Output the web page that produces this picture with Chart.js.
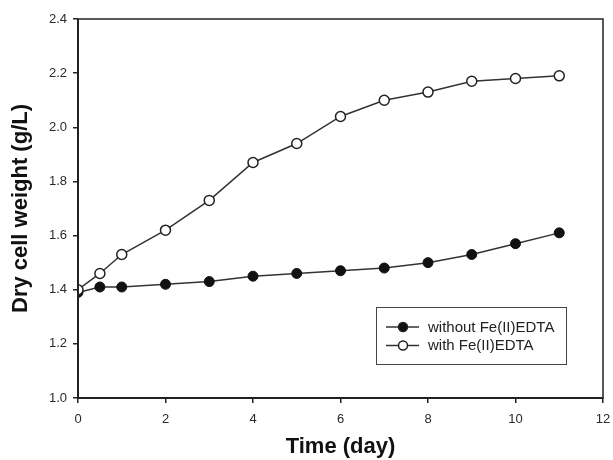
<!DOCTYPE html>
<html>
<head>
<meta charset="utf-8">
<style>
  html, body { margin: 0; padding: 0; background: #fff; }
  #wrap { width: 613px; height: 460px; }
</style>
<script src="https://cdn.jsdelivr.net/npm/chart.js@4.4.0/dist/chart.umd.min.js"></script>
</head>
<body>
<div id="wrap"><canvas id="dcwChart" width="613" height="460"></canvas></div>
<script>
// data
const days = [0, 0.5, 1, 2, 3, 4, 5, 6, 7, 8, 9, 10, 11];
const withoutFe = [1.39, 1.41, 1.41, 1.42, 1.43, 1.45, 1.46, 1.47, 1.48, 1.50, 1.53, 1.57, 1.61];
const withFe = [1.40, 1.46, 1.53, 1.62, 1.73, 1.87, 1.94, 2.04, 2.10, 2.13, 2.17, 2.18, 2.19];
const seriesNames = ['without Fe(II)EDTA', 'with Fe(II)EDTA'];
const xTicks = [0, 2, 4, 6, 8, 10, 12];
const yTicks = [1.0, 1.2, 1.4, 1.6, 1.8, 2.0, 2.2, 2.4];

const lineColor = '#333';
const textColor = '#2a2a2a';

function toPoints(ys) {
  return days.map((d, i) => ({ x: d, y: ys[i] }));
}

// kotak di sekeliling area plot
const framePlugin = {
  id: 'frame',
  afterDraw(chart) {
    const { ctx, chartArea: a } = chart;
    ctx.save();
    ctx.strokeStyle = '#222';
    ctx.lineWidth = 1.5;
    ctx.strokeRect(a.left, a.top, a.right - a.left, a.bottom - a.top);
    ctx.lineWidth = 2;
    ctx.beginPath();
    ctx.moveTo(a.left, a.top);
    ctx.lineTo(a.left, a.bottom);
    ctx.lineTo(a.right, a.bottom);
    ctx.stroke();
    ctx.restore();
  }
};

// legenda di dalam area plot, kanan bawah
const boxLegend = {
  id: 'boxLegend',
  afterDraw(chart) {
    const { ctx } = chart;
    const bx = 376, by = 307;
    const bw = 190, bh = 57;
    ctx.save();
    ctx.fillStyle = '#fff';
    ctx.fillRect(bx, by, bw, bh);
    ctx.strokeStyle = '#444';
    ctx.lineWidth = 1;
    ctx.strokeRect(bx + 0.5, by + 0.5, bw, bh);
    ctx.font = '15px "Liberation Sans", Arial, sans-serif';
    ctx.textBaseline = 'middle';
    const order = [1, 0];
    const dsByIndex = chart.data.datasets;
    order.forEach((di, row) => {
      const ds = dsByIndex[di];
      const cy = by + 20 + row * 18.5;
      ctx.strokeStyle = lineColor;
      ctx.lineWidth = 1.5;
      ctx.beginPath();
      ctx.moveTo(bx + 10, cy);
      ctx.lineTo(bx + 43, cy);
      ctx.stroke();
      ctx.beginPath();
      ctx.arc(bx + 27, cy, 4.5, 0, Math.PI * 2);
      ctx.fillStyle = ds.pointBackgroundColor;
      ctx.fill();
      ctx.lineWidth = 1.5;
      ctx.strokeStyle = '#222';
      ctx.stroke();
      ctx.fillStyle = '#222';
      ctx.fillText(ds.label, bx + 52, cy + 0.5);
    });
    ctx.restore();
  }
};

const ctx = document.getElementById('dcwChart').getContext('2d');
const dcwChart = new Chart(ctx, {
  type: 'scatter',
  data: {
    datasets: [
      {
        label: seriesNames[1],
        data: toPoints(withFe),
        showLine: true,
        borderColor: lineColor,
        borderWidth: 1.5,
        pointRadius: 5,
        pointBorderWidth: 1.5,
        pointBorderColor: '#222',
        pointBackgroundColor: '#fff',
        order: 0
      },
      {
        label: seriesNames[0],
        data: toPoints(withoutFe),
        showLine: true,
        borderColor: lineColor,
        borderWidth: 1.5,
        pointRadius: 5,
        pointBorderWidth: 1,
        pointBorderColor: '#111',
        pointBackgroundColor: '#111',
        order: 1
      }
    ]
  },
  options: {
    responsive: false,
    animation: false,
    layout: { padding: { top: 19, right: 10, left: 0, bottom: 0 } },
    plugins: {
      legend: { display: false },
      tooltip: { enabled: false }
    },
    scales: {
      x: {
        type: 'linear',
        min: 0,
        max: 12,
        afterBuildTicks: (s) => { s.ticks = xTicks.map(v => ({ value: v })); },
        afterFit: (s) => { s.height = 62; s.paddingLeft = 0; s.paddingRight = 0; },
        grid: { drawOnChartArea: false, tickLength: 5, color: '#222', lineWidth: 1.5 },
        border: { display: false },
        ticks: {
          color: textColor,
          font: { family: '"Liberation Sans", Arial, sans-serif', size: 13 },
          padding: 9,
          maxRotation: 0
        },
        title: {
          display: true,
          text: 'Time (day)',
          color: '#111',
          font: { family: '"Liberation Sans", Arial, sans-serif', size: 22, weight: 'bold' },
          padding: { top: 0, bottom: 0 }
        }
      },
      y: {
        type: 'linear',
        min: 1.0,
        max: 2.4,
        afterBuildTicks: (s) => { s.ticks = yTicks.map(v => ({ value: v })); },
        afterFit: (s) => { s.width = 78; s.paddingTop = 0; s.paddingBottom = 0; },
        grid: { drawOnChartArea: false, tickLength: 5, color: '#222', lineWidth: 1.5 },
        border: { display: false },
        ticks: {
          color: textColor,
          font: { family: '"Liberation Sans", Arial, sans-serif', size: 13 },
          padding: 6,
          callback: (v) => v.toFixed(1)
        },
        title: {
          display: true,
          text: 'Dry cell weight (g/L)',
          color: '#111',
          font: { family: '"Liberation Sans", Arial, sans-serif', size: 22, weight: 'bold' },
          padding: { top: 8 }
        }
      }
    }
  },
  plugins: [framePlugin, boxLegend]
});
</script>
</body>
</html>
